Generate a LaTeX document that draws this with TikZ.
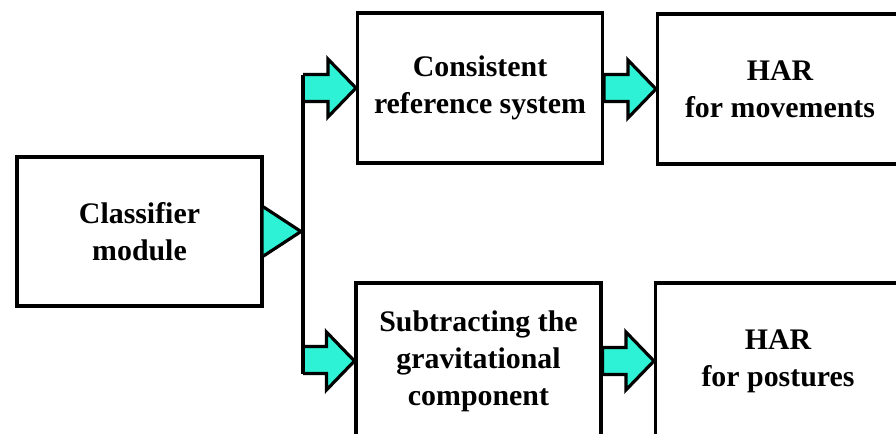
\documentclass[tikz,border=0pt]{standalone}
\usepackage{fontspec}
\setmainfont{Liberation Serif}
\usepackage{color}
\usepackage{tikz}
\definecolor{cyan500}{HTML}{2EF2D6}
\usetikzlibrary{calc}
\tikzstyle{bloco}=[rectangle, draw=black, fill=white, line width=1.8pt, align=center, font=\bfseries\fontsize{17}{21}\selectfont, minimum width=4.9cm, minimum height=3cm]
\tikzstyle{seta}=[draw=black, fill=cyan500, line width=1.8pt]

\begin{document}
\begin{tikzpicture}[x=0.02cm, y=-0.02cm]
					\useasboundingbox (0,0) rectangle (896,433);
					\clip (0,0) rectangle (896,433);
					\node[bloco, minimum height=2.98cm] (cls) at (139.5,231.5) {Classifier\\module};
					\node[bloco] (crs) at (480,88) {Consistent\\reference system};
					\node[bloco] (harm) at (780,89) {HAR\\for movements};
					\node[bloco, minimum height=3.12cm] (sub) at (478.5,361) {Subtracting the\\gravitational\\component};
					\node[bloco, minimum height=3.12cm] (harp) at (778,361) {HAR\\for postures};
					\coordinate (fka) at (303,74.5);
					\coordinate (fkb) at (303,101.5);
					\coordinate (fkc) at (303,346.5);
					\coordinate (fkd) at (303,373.5);
					\path[seta] ($(cls.east)+(0,-24.5)$) -- ($(cls.east -| fka)+(-2,0)$) -- ($(cls.east)+(0,24.5)$);
					\path[seta] (fka) -| ($(crs.west)+(-28,-29)$) -- (crs.west) -- ($(crs.west)+(-28,29)$) |- (fkb);
					\path[seta] (fkc) -| ($(sub.west)+(-28,-29)$) -- (sub.west) -- ($(sub.west)+(-28,29)$) |- (fkd);
					\path[draw=black, line width=1.8pt] (fka) -- (fkd);
					\path[seta] ($(crs.east)+(0,-13.5)$) -| ($(harm.west)+(-28,-29)$) -- (harm.west) -- ($(harm.west)+(-28,29)$) |- ($(crs.east)+(0,13.5)$) -- cycle;
					\path[seta] ($(sub.east)+(0,-13.5)$) -| ($(harp.west)+(-28,-29)$) -- (harp.west) -- ($(harp.west)+(-28,29)$) |- ($(sub.east)+(0,13.5)$) -- cycle;
				\end{tikzpicture}
\end{document}
